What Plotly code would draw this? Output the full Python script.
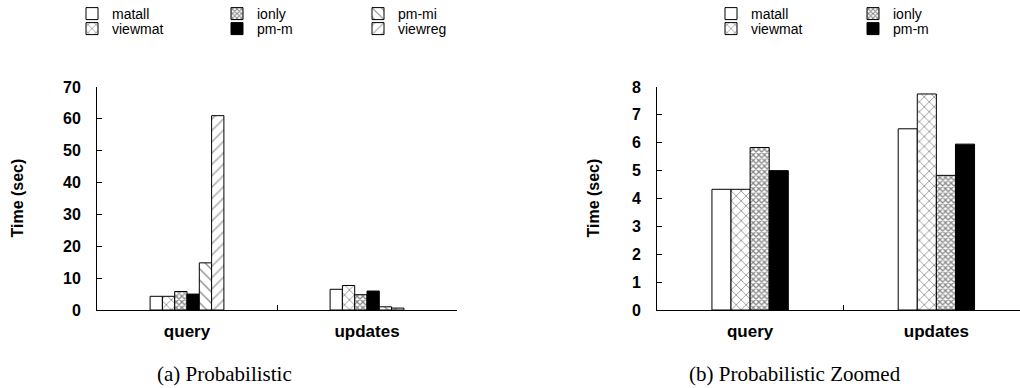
import plotly.graph_objects as go

categories = ["query", "updates"]
series_left = ["matall", "viewmat", "ionly", "pm-m", "pm-mi", "viewreg"]
values_left = {
    "matall": [4.3, 6.5],
    "viewmat": [4.3, 7.7],
    "ionly": [5.8, 4.8],
    "pm-m": [5.0, 5.95],
    "pm-mi": [14.8, 1.0],
    "viewreg": [61.0, 0.6],
}
series_right = ["matall", "viewmat", "ionly", "pm-m"]
values_right = {
    "matall": [4.33, 6.5],
    "viewmat": [4.33, 7.75],
    "ionly": [5.83, 4.83],
    "pm-m": [5.0, 5.95],
}
yticks_left = [0, 10, 20, 30, 40, 50, 60, 70]
yticks_right = [0, 1, 2, 3, 4, 5, 6, 7, 8]

W, H = 1020, 388
PLOT_TOP, PLOT_BOTTOM = 87, 310
ML, MR, MT, MB = 0, 0, PLOT_TOP, H - PLOT_BOTTOM

styles = {
    "matall": dict(color="white", pattern=None),
    "viewmat": dict(color="white", pattern=dict(shape="x", fgcolor="black", bgcolor="white", size=7, solidity=0.2)),
    "ionly": dict(color="white", pattern=dict(shape="x", fgcolor="#111", bgcolor="white", size=4, solidity=0.55)),
    "pm-m": dict(color="black", pattern=None),
    "pm-mi": dict(color="white", pattern=dict(shape="\\", fgcolor="black", bgcolor="white", size=8, solidity=0.15)),
    "viewreg": dict(color="white", pattern=dict(shape="/", fgcolor="#666", bgcolor="white", size=8, solidity=0.2)),
}

# legend slot for each entry: (page x of legend left, page y of row center)
ROW1, ROW2 = 14, 29
legend_pos_left = {"matall": (72, ROW1), "viewmat": (72, ROW2), "ionly": (217, ROW1),
                   "pm-m": (217, ROW2), "pm-mi": (358, ROW1), "viewreg": (358, ROW2)}
legend_pos_right = {"matall": (711, ROW1), "viewmat": (711, ROW2), "ionly": (853, ROW1),
                    "pm-m": (853, ROW2)}

fig = go.Figure()

def px_x(p):
    return (p - ML) / (W - ML - MR)

def px_y(p):
    return (PLOT_BOTTOM - p) / (PLOT_BOTTOM - PLOT_TOP)

legfont = dict(family="Liberation Sans", size=14, color="black")
legends = {}
counter = [0]

def add_bar(name, vals, xa, ya, pos):
    counter[0] += 1
    key = "legend" if counter[0] == 1 else "legend%d" % counter[0]
    legends[key] = dict(x=pos[0] / W, y=1 - pos[1] / H, xref="container", yref="container",
                        xanchor="left", yanchor="middle",
                        orientation="v", font=legfont, bgcolor="rgba(0,0,0,0)",
                        itemclick=False, itemdoubleclick=False)
    st = styles[name]
    marker = dict(color=st["color"], line=dict(color="black", width=1))
    if st["pattern"] is not None:
        marker["pattern"] = st["pattern"]
    fig.add_trace(go.Bar(x=categories, y=vals, name=name, marker=marker,
                         xaxis=xa, yaxis=ya, legend=key, showlegend=True))

for s in series_left:
    add_bar(s, values_left[s], "x", "y", legend_pos_left[s])
for s in series_right:
    add_bar(s, values_right[s], "x2", "y2", legend_pos_right[s])

tickfont = dict(family="Liberation Sans", size=16, color="black", weight="bold")
catfont = dict(family="Liberation Sans", size=17, color="black", weight="bold")

xcommon = dict(type="category", showline=True, linecolor="black", linewidth=1,
               ticks="inside", tickson="boundaries", ticklen=5, tickcolor="black",
               tickfont=catfont, showgrid=False, zeroline=False, fixedrange=True,
               ticklabelstandoff=6, automargin=False)
ycommon = dict(showline=True, linecolor="black", linewidth=1, ticks="inside", ticklen=5,
               tickcolor="black", tickfont=tickfont, showgrid=False, zeroline=False,
               ticklabelstandoff=12, automargin=False, fixedrange=True)

fig.update_layout(
    width=W, height=H,
    margin=dict(l=ML, r=MR, t=MT, b=MB, autoexpand=False),
    paper_bgcolor="white", plot_bgcolor="white",
    barmode="group", bargap=0.59, bargroupgap=0,
    xaxis=dict(domain=[px_x(97), px_x(457)], range=[-0.5, 1.5], anchor="y", **xcommon),
    yaxis=dict(range=[0, 70], tickvals=yticks_left, anchor="x", **ycommon),
    xaxis2=dict(domain=[px_x(657), 1.0], range=[-0.5, 1.449], anchor="y2", **xcommon),
    yaxis2=dict(range=[0, 8], tickvals=yticks_right, anchor="x2", **ycommon),
    showlegend=True,
    **legends,
)

titlefont = dict(family="Liberation Sans", size=16, color="black", weight="bold")
capfont = dict(family="Liberation Serif", size=21, color="black")
fig.add_annotation(text="Time (sec)", x=px_x(17), y=0.5, xref="paper", yref="paper",
                   textangle=-90, showarrow=False, font=titlefont, xanchor="center", yanchor="middle")
fig.add_annotation(text="Time (sec)", x=px_x(593), y=0.5, xref="paper", yref="paper",
                   textangle=-90, showarrow=False, font=titlefont, xanchor="center", yanchor="middle")
fig.add_annotation(text="(a) Probabilistic", x=px_x(224), y=px_y(374), xref="paper", yref="paper",
                   showarrow=False, font=capfont, xanchor="center", yanchor="middle")
fig.add_annotation(text="(b) Probabilistic Zoomed", x=px_x(795), y=px_y(374), xref="paper", yref="paper",
                   showarrow=False, font=capfont, xanchor="center", yanchor="middle")

fig.write_html("out.html", config={"displayModeBar": False},
               post_script="document.body.style.margin='0px';")
